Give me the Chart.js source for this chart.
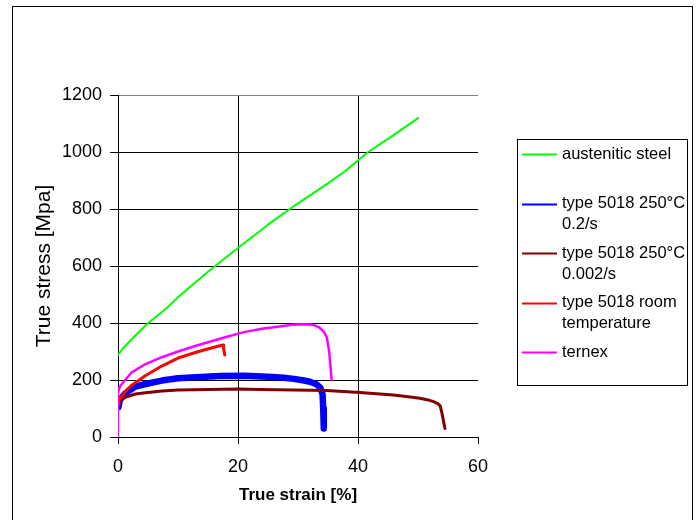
<!DOCTYPE html>
<html>
<head>
<meta charset="utf-8">
<title>True stress vs true strain</title>
<script src="https://cdn.jsdelivr.net/npm/chart.js@4.4.1/dist/chart.umd.min.js"></script>
<style>
  html, body { margin: 0; padding: 0; background: #fff; }
  canvas { display: block; }
</style>
</head>
<body>
<canvas id="stressChart" width="700" height="520"></canvas>
<script>
/* ── Datos ── */
var seriesNames  = ['austenitic steel', 'type 5018 250\u00b0C\n0.2/s', 'type 5018 250\u00b0C\n0.002/s', 'type 5018 room\ntemperature', 'ternex'];
var seriesColors = ['#00FF00', '#0000FF', '#800000', '#FF0000', '#FF00FF'];

var austeniticStrain = [0, 1, 3, 5, 8, 10, 15, 20, 25, 30, 35, 38, 41.7, 46, 50];
var austeniticStress = [288, 315, 358, 399, 450, 490, 580, 663, 745, 820, 890, 935, 1000, 1060, 1119];

var fastStrain = [0.1, 0.3, 1.2, 2.9, 4.6, 7.3, 10, 13, 17, 21, 25, 27.6, 29.3, 31, 32, 33, 33.7, 34.1, 34.2, 34.3];
var fastStress = [105, 130, 153, 177, 186, 198, 206, 210, 214, 215, 211, 208, 204, 198, 194, 186, 174, 150, 100, 30];

var slowStrain = [0, 0.2, 1.2, 2.9, 4.6, 7.3, 10, 15, 20, 23.7, 29.2, 34.8, 40.3, 45.9, 48.7, 50.3, 51.5, 52.6, 53.3, 53.7, 54, 54.3, 54.5];
var slowStress = [110, 124, 139, 151, 155, 161, 165, 167, 168, 167, 165, 163, 156, 147, 140, 136, 131, 124, 117, 109, 83, 50, 30];

var roomStrain = [0.1, 0.2, 0.5, 1.2, 2.3, 4.6, 7.3, 10, 13.3, 16, 17.5, 17.6, 17.8];
var roomStress = [115, 130, 140, 159, 182, 216, 249, 277, 299, 315, 323, 310, 288];

var ternexStrain = [0, 0, 0.2, 0.4, 1.2, 2.3, 4.6, 7.3, 10, 13, 15.6, 18, 21, 24, 26.6, 29, 31, 32.5, 33.5, 34.3, 34.8, 35.2, 35.4, 35.6];
var ternexStress = [0, 153, 170, 180, 200, 227, 256, 280, 300, 320, 336, 351, 368, 380, 387, 394, 396, 394, 385, 370, 350, 300, 250, 200];

var xTicks = [0, 20, 40, 60];
var yTicks = [0, 200, 400, 600, 800, 1000, 1200];

var FONT = "'Liberation Sans', Arial, sans-serif";

function toPoints(xs, ys) {
  return xs.map(function(x, i) { return { x: x, y: ys[i] }; });
}

var seriesData = [
  toPoints(austeniticStrain, austeniticStress),
  toPoints(fastStrain, fastStress),
  toPoints(slowStrain, slowStress),
  toPoints(roomStrain, roomStress),
  toPoints(ternexStrain, ternexStress)
];
var lineWidths = [2, 6.5, 3, 3, 2.5];
var drawOrder  = [4, 3, 2, 1, 0];   /* ternex encima */

/* ── Marco exterior y leyenda propia ── */
var framePlugin = {
  id: 'frame',
  beforeDraw: function(chart) {
    var ctx = chart.ctx;
    ctx.save();
    ctx.fillStyle = '#fff';
    ctx.fillRect(0, 0, chart.width, chart.height);
    ctx.restore();
  },
  afterDraw: function(chart) {
    var ctx = chart.ctx;
    ctx.save();
    ctx.strokeStyle = '#000';
    ctx.lineWidth = 1;
    ctx.strokeRect(12.5, 6.5, 680, 530);

    /* leyenda */
    ctx.strokeRect(517.5, 139.5, 170, 246);
    ctx.font = '16.5px ' + FONT;
    ctx.fillStyle = '#000';
    ctx.textBaseline = 'middle';
    ctx.textAlign = 'left';
    seriesNames.forEach(function(name, i) {
      var y = 154 + i * 49.5;
      ctx.strokeStyle = seriesColors[i];
      ctx.lineWidth = 2;
      ctx.beginPath();
      ctx.moveTo(522, Math.round(y) + 0.5);
      ctx.lineTo(557, Math.round(y) + 0.5);
      ctx.stroke();
      name.split('\n').forEach(function(line, k) {
        ctx.fillText(line, 562, y + k * 21);
      });
    });
    ctx.restore();
  }
};

new Chart(document.getElementById('stressChart').getContext('2d'), {
  type: 'scatter',
  data: {
    datasets: seriesData.map(function(pts, i) {
      return {
        label: seriesNames[i],
        data: pts,
        showLine: true,
        borderColor: seriesColors[i],
        backgroundColor: seriesColors[i],
        borderWidth: lineWidths[i],
        borderJoinStyle: 'round',
        borderCapStyle: 'round',
        pointRadius: 0,
        tension: 0,
        order: drawOrder[i]
      };
    })
  },
  options: {
    responsive: false,
    animation: false,
    devicePixelRatio: 1,
    layout: { padding: { top: 95, right: 222, left: 0, bottom: 0 } },
    plugins: {
      legend: { display: false },
      tooltip: { enabled: false }
    },
    scales: {
      x: {
        type: 'linear',
        min: 0,
        max: 60,
        afterBuildTicks: function(s) { s.ticks = xTicks.map(function(v) { return { value: v }; }); },
        afterFit: function(s) { s.height = 83; },
        border: { display: true, color: '#000', width: 1 },
        grid: {
          color: function(c) { return (c.tick && c.tick.value === 60) ? 'rgba(0,0,0,0)' : '#000'; },
          tickColor: '#000',
          tickLength: 7,
          lineWidth: 1
        },
        ticks: {
          color: '#000', padding: 12, maxRotation: 0, font: { family: FONT, size: 18 },
          callback: function(v) { return String(v); }
        },
        title: {
          display: true,
          text: 'True strain [%]',
          color: '#000',
          font: { family: FONT, size: 17, weight: 'bold' },
          padding: { top: 0, bottom: 14 }
        }
      },
      y: {
        type: 'linear',
        min: 0,
        max: 1200,
        afterBuildTicks: function(s) { s.ticks = yTicks.map(function(v) { return { value: v }; }); },
        afterFit: function(s) { s.width = 118; },
        border: { display: true, color: '#000', width: 1 },
        grid: {
          color: function(c) { return (c.tick && c.tick.value === 1200) ? '#808080' : '#000'; },
          tickColor: '#000',
          tickLength: 8,
          lineWidth: 1
        },
        ticks: {
          color: '#000', padding: 8, font: { family: FONT, size: 18 },
          callback: function(v) { return String(v); }
        },
        title: {
          display: true,
          text: 'True stress [Mpa]',
          color: '#000',
          font: { family: FONT, size: 21 },
          padding: { top: 32, bottom: 0 }
        }
      }
    }
  },
  plugins: [framePlugin]
});
</script>
</body>
</html>
